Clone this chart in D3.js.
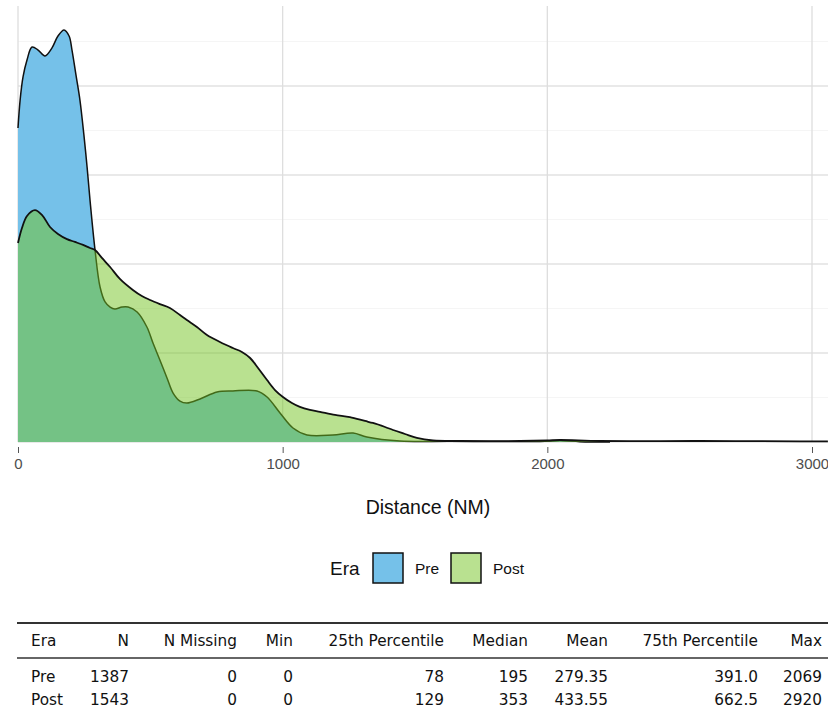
<!DOCTYPE html>
<html><head><meta charset="utf-8">
<script src="https://cdn.jsdelivr.net/npm/d3@7"></script>
<style>body{margin:0;background:#fff} svg{display:block}</style>
</head><body>
<svg id="c" width="828" height="713"></svg>
<script>
// ---------- data ----------
const eras = ["Pre", "Post"];
const xTicks = [0, 1000, 2000, 3000];

const preDist = [0, 8, 19, 34, 53, 76, 102, 128, 151, 174, 193, 204, 219, 234, 249, 261, 272, 291, 310, 329, 348, 366, 393, 416, 450, 487, 510, 536, 563, 586, 612, 638, 688, 752, 812, 903, 941, 990, 1039, 1092, 1190, 1266, 1318, 1443, 1632, 1972, 2048, 2123, 2237];
const preDens = [0.001764, 0.001921, 0.002051, 0.002146, 0.002219, 0.002202, 0.002169, 0.002213, 0.002281, 0.002315, 0.002281, 0.002202, 0.002062, 0.001921, 0.001725, 0.001545, 0.001360, 0.001079, 0.000871, 0.000787, 0.000758, 0.000747, 0.000758, 0.000758, 0.000730, 0.000646, 0.000556, 0.000461, 0.000360, 0.000275, 0.000230, 0.000219, 0.000242, 0.000281, 0.000287, 0.000287, 0.000253, 0.000163, 0.0000787, 0.0000393, 0.0000393, 0.0000506, 0.0000281, 0.0000056, 0.000004, 0.000003, 0.000008, 0.000002, 0];

const postDist = [0, 15, 34, 64, 91, 121, 151, 185, 215, 246, 272, 291, 317, 348, 385, 434, 468, 499, 536, 574, 612, 638, 676, 714, 763, 812, 846, 877, 907, 941, 971, 1001, 1035, 1065, 1103, 1141, 1198, 1254, 1311, 1341, 1387, 1417, 1462, 1507, 1568, 1670, 1897, 1999, 2048, 2199, 2577, 2954, 3060];
const postDens = [0.001118, 0.001202, 0.001270, 0.001303, 0.001275, 0.001208, 0.001169, 0.001140, 0.001124, 0.001107, 0.001090, 0.001079, 0.001034, 0.000983, 0.000916, 0.000854, 0.000820, 0.000798, 0.000775, 0.000753, 0.000713, 0.000685, 0.000646, 0.000601, 0.000562, 0.000528, 0.000506, 0.000472, 0.000416, 0.000348, 0.000292, 0.000253, 0.000219, 0.000197, 0.000180, 0.000169, 0.000152, 0.000140, 0.000118, 0.000107, 0.0000843, 0.0000674, 0.0000449, 0.0000225, 0.0000084, 0.0000056, 0.0000056, 0.0000084, 0.0000112, 0.0000056, 0.0000056, 0.000004, 0.000003];

const tableHeader = ["Era", "N", "N Missing", "Min", "25th Percentile", "Median", "Mean", "75th Percentile", "Max"];
const tablePre  = ["Pre", "1387", "0", "0", "78", "195", "279.35", "391.0", "2069"];
const tablePost = ["Post", "1543", "0", "0", "129", "353", "433.55", "662.5", "2920"];

// ---------- drawing ----------
const svg = d3.select("#c");
const x = d3.scaleLinear().domain([0, 3000]).range([18, 812]);
const y = d3.scaleLinear().domain([0, 0.0025]).range([442, -3]);
const W = 828;

const grid = svg.append("g");
grid.selectAll("line.minor").data(d3.range(0.00025, 0.0025, 0.0005)).enter().append("line")
  .attr("x1", x(0)).attr("x2", W).attr("y1", d => y(d)).attr("y2", d => y(d))
  .attr("stroke", "#f5f5f5").attr("stroke-width", 1);
grid.selectAll("line.major").data(d3.range(0, 0.0025, 0.0005)).enter().append("line")
  .attr("x1", x(0)).attr("x2", W).attr("y1", d => y(d)).attr("y2", d => y(d))
  .attr("stroke", "#e2e2e2").attr("stroke-width", 1.3);
grid.selectAll("line.v").data(xTicks).enter().append("line")
  .attr("x1", d => x(d)).attr("x2", d => x(d)).attr("y1", 6).attr("y2", 442)
  .attr("stroke", "#dedede").attr("stroke-width", 1.3);

const preData = preDist.map((d, i) => [d, preDens[i]]);
const postData = postDist.map((d, i) => [d, postDens[i]]);

const curve = d3.curveCatmullRom.alpha(0.5);
const yc = v => Math.min(y(0), y(v));
const area = d3.area().x(d => x(d[0])).y0(y(0)).y1(d => y(d[1])).curve(curve);
const line = d3.line().x(d => x(d[0])).y(d => y(d[1])).curve(curve);

svg.append("path").datum(preData).attr("d", area).attr("fill", "#75c1e9");
svg.append("path").datum(preData).attr("d", line).attr("fill", "none").attr("stroke", "#111").attr("stroke-width", 1.5);
svg.append("path").datum(postData).attr("d", area).attr("fill", "#73c321").attr("fill-opacity", 0.5);
svg.append("path").datum(postData).attr("d", line).attr("fill", "none").attr("stroke", "#111").attr("stroke-width", 1.8);

// x axis
const xAxis = svg.append("g").attr("transform", "translate(0,447)")
  .call(d3.axisBottom(x).tickValues(xTicks).tickSize(6).tickPadding(5).tickFormat(d3.format("d")));
xAxis.select(".domain").remove();
xAxis.selectAll("line").attr("stroke", "#555").attr("stroke-width", 1);
xAxis.selectAll("text").attr("fill", "#4d4d4d").style("font-family", "Liberation Sans, Arial, sans-serif").style("font-size", "15px");

svg.append("text").attr("x", 428).attr("y", 514).attr("text-anchor", "middle")
  .style("font-family", "Liberation Sans, Arial, sans-serif").style("font-size", "19.5px").attr("fill", "#111")
  .text("Distance (NM)");

// legend
const legendColor = d3.scaleOrdinal().domain(eras).range(["#75c1e9", "#b9e190"]);
svg.append("text").attr("x", 330).attr("y", 575)
  .style("font-family", "Liberation Sans, Arial, sans-serif").style("font-size", "19px").attr("fill", "#111").text("Era");
const legX = [373, 451];
eras.forEach((e, i) => {
  svg.append("rect").attr("x", legX[i]).attr("y", 553).attr("width", 30).attr("height", 30)
    .attr("fill", legendColor(e)).attr("stroke", "#111").attr("stroke-width", 1.5);
  svg.append("text").attr("x", legX[i] + 42).attr("y", 574)
    .style("font-family", "Liberation Sans, Arial, sans-serif").style("font-size", "15.5px").attr("fill", "#111").text(e);
});

// table
const colX = [31, 129, 237, 293, 444, 528, 608, 758, 822];
svg.append("line").attr("x1", 17).attr("x2", W).attr("y1", 623).attr("y2", 623).attr("stroke", "#333").attr("stroke-width", 2);
svg.append("line").attr("x1", 17).attr("x2", W).attr("y1", 658).attr("y2", 658).attr("stroke", "#333").attr("stroke-width", 1.4);
const rows = [[tableHeader, 646], [tablePre, 682], [tablePost, 705]];
rows.forEach(([r, yy]) => {
  r.forEach((t, j) => {
    svg.append("text").attr("x", colX[j]).attr("y", yy)
      .attr("text-anchor", j === 0 ? "start" : "end")
      .style("font-family", "DejaVu Sans, sans-serif").style("font-size", "15.3px").attr("fill", "#111").text(t);
  });
});
</script>
</body></html>
